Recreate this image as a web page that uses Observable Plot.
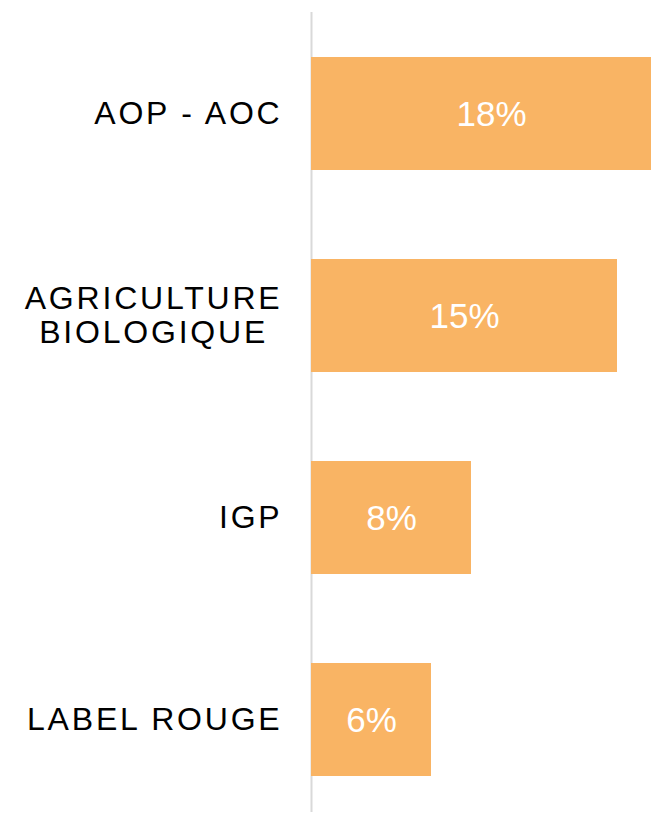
<!DOCTYPE html>
<html>
<head>
<meta charset="utf-8">
<script src="https://cdn.jsdelivr.net/npm/d3@7"></script>
<script src="https://cdn.jsdelivr.net/npm/@observablehq/plot@0.6"></script>
<style>
  html, body { margin: 0; padding: 0; background: #fff; }
  svg { overflow: hidden; }
  [aria-label="y-axis tick label"] text { letter-spacing: 2.8px; }
</style>
</head>
<body>
<div id="chart"></div>
<script>
const categories = ["AOP - AOC", "AGRICULTURE BIOLOGIQUE", "IGP", "LABEL ROUGE"];
const tickLabels = ["AOP - AOC", "AGRICULTURE\nBIOLOGIQUE", "IGP", "LABEL ROUGE"];
const values = [18, 15.3, 8, 6];

const data = categories.map((c, i) => ({category: c, value: values[i], label: `${Math.round(values[i])}%`}));
const labelOf = new Map(categories.map((c, i) => [c, tickLabels[i]]));

const font = "'Liberation Sans', Arial, Helvetica, sans-serif";

const chart = Plot.plot({
  width: 651,
  height: 815,
  marginLeft: 311,
  marginRight: 0,
  marginTop: 12,
  marginBottom: 3,
  style: {fontFamily: font, background: "#fff"},
  x: {domain: [0, 17], axis: null},
  y: {type: "band", domain: categories, range: [13, 821], paddingInner: 0.44, paddingOuter: 0.22, label: null},
  marks: [
    Plot.ruleX([0], {stroke: "#d9d9d9", strokeWidth: 2}),
    Plot.barX(data, {x: "value", y: "category", fill: "#F9B464"}),
    Plot.text(data, {x: d => d.value / 2, y: "category", text: "label", fill: "#fff", fontSize: 35, fontFamily: font, dy: 1}),
    Plot.axisY({
      tickSize: 0,
      tickPadding: 29,
      fontSize: 32,
      fontFamily: font,
      fill: "#000",
      lineHeight: 1.08,
      dy: -1,
      tickFormat: d => labelOf.get(d)
    })
  ]
});

document.getElementById("chart").appendChild(chart);

// center multi-line labels within their right-aligned block
chart.querySelectorAll('[aria-label="y-axis tick label"] text').forEach(t => {
  const spans = t.querySelectorAll("tspan");
  if (spans.length > 1) {
    let maxW = 0;
    spans.forEach(s => { maxW = Math.max(maxW, s.getComputedTextLength()); });
    t.setAttribute("text-anchor", "middle");
    spans.forEach(s => s.setAttribute("x", -maxW / 2));
  }
});
</script>
</body>
</html>
